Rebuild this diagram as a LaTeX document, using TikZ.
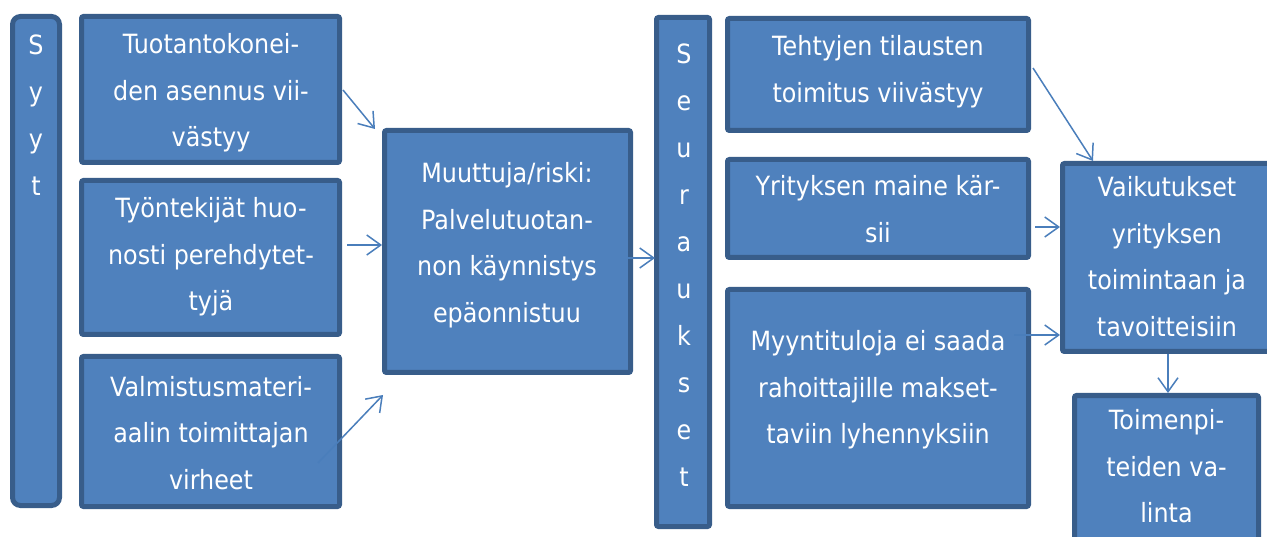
\documentclass[tikz,border=0pt]{standalone}
\usepackage{fontspec}
\setmainfont{DejaVu Sans}[FakeStretch=0.9]
\usetikzlibrary{arrows.meta}
\definecolor{boxfill}{HTML}{4F81BD}
\definecolor{boxline}{HTML}{385D8A}
\definecolor{arrcol}{HTML}{4A7EBB}
\tikzset{
  blk/.style={draw=boxline, fill=boxfill, line width=5pt, rounded corners=2pt, inner sep=0pt},
  txt/.style={text=white, align=center, inner sep=0pt, font=\fontsize{26.5}{46.5}\selectfont},
  vtxt/.style={text=white, align=center, inner sep=0pt, font=\fontsize{26.5}{47}\selectfont},
  arr/.style={draw=arrcol, line width=1.5pt, -{Straight Barb[length=14pt,width=20pt,line width=1.5pt]}}
}
\begin{document}
\begin{tikzpicture}[x=1pt,y=-1pt]
\useasboundingbox (0,0) rectangle (1267,537);
\clip (0,0) rectangle (1267,537);
% boxes
\node[blk, rounded corners=8pt, minimum width=47pt, minimum height=489pt] (syyt) at (36,261) {};
\node[blk, minimum width=258pt, minimum height=146pt] (b1) at (210.5,89.5) {};
\node[blk, minimum width=258pt, minimum height=154pt] (b2) at (210.5,257.5) {};
\node[blk, minimum width=258pt, minimum height=150pt] (b3) at (210.5,431.5) {};
\node[blk, minimum width=246pt, minimum height=242pt] (cen) at (507.5,251.5) {};
\node[blk, minimum width=53pt, minimum height=509pt] (seur) at (683,272) {};
\node[blk, minimum width=301pt, minimum height=112pt] (r1) at (878,74.5) {};
\node[blk, minimum width=301pt, minimum height=98pt] (r2) at (878,208.5) {};
\node[blk, minimum width=301pt, minimum height=217pt] (r3) at (878,398) {};
\node[blk, minimum width=209pt, minimum height=188pt] (vaik) at (1167,257.5) {};
\node[blk, minimum width=184pt, minimum height=162pt] (toim) at (1166.5,476.5) {};
% texts
\node[vtxt, anchor=north] (syytT) at (36,35) {S\\y\\y\\t};
\node[vtxt, anchor=north] (seurT) at (684,44) {S\\e\\u\\r\\a\\u\\k\\s\\e\\t};
\node[txt] (b1T) at (211,93) {Tuotantokonei-\\den asennus vii-\\västyy};
\node[txt] (b2T) at (211,257) {Työntekijät huo-\\nosti perehdytet-\\tyjä};
\node[txt] (b3T) at (211,433) {Valmistusmateri-\\aalin toimittajan\\virheet};
\node[txt] (cenT) at (507,245) {Muuttuja/riski:\\Palvelutuotan-\\non käynnistys\\epäonnistuu};
\node[txt] (r1T) at (878,71.5) {Tehtyjen tilausten\\toimitus viivästyy};
\node[txt] (r2T) at (878,209) {Yrityksen maine kär-\\sii};
\node[txt] (r3T) at (878,390) {Myyntituloja ei saada\\rahoittajille makset-\\taviin lyhennyksiin};
\node[txt] (vaikT) at (1167,256.5) {Vaikutukset\\yrityksen\\toimintaan ja\\tavoitteisiin};
\node[txt] (toimT) at (1166.5,466.5) {Toimenpi-\\teiden va-\\linta};
% connectors
\draw[arr] ([shift={(1,0.5)}]b1.east) -- ([shift={(-7,1)}]cen.north west);
\draw[arr] ([shift={(5,-12.5)}]b2.east) -- ([shift={(0,-6.5)}]cen.west);
\draw[arr] ([shift={(-24,31.5)}]b3.east) -- ([shift={(1,20)}]cen.south west);
\draw[arr] ([shift={(-5,6.5)}]cen.east) -- ([shift={(1,-14)}]seur.west);
\draw[arr] ([shift={(2,-6.5)}]r1.east) -- ([shift={(33,0)}]vaik.north west);
\draw[arr] ([shift={(4,18.5)}]r2.east) -- ([shift={(0,-30.5)}]vaik.west);
\draw[arr] ([shift={(-17,-63)}]r3.east) -- ([shift={(0,77.5)}]vaik.west);
\draw[arr] ([shift={(1,0)}]vaik.south) -- ([shift={(1.5,0)}]toim.north);
\end{tikzpicture}
\end{document}
